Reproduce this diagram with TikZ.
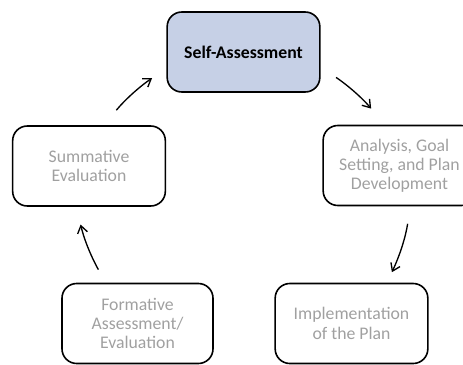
\documentclass[tikz,border=0pt]{standalone}
\usepackage{fontspec}
\setmainfont{Carlito}
\usetikzlibrary{arrows.meta}
\definecolor{selfblue}{RGB}{198,208,230}
\definecolor{labelgray}{RGB}{160,160,160}

\begin{document}
\begin{tikzpicture}
[x=0.75pt,y=-0.75pt,%
  box/.style={draw=black,line width=1.2pt,rounded corners=11pt,align=center,%
    minimum width=114.5pt,minimum height=60pt,inner sep=2pt,text=labelgray,%
    font=\fontsize{13.3}{14.4}\selectfont},%
  arr/.style={-{Straight Barb[length=5.5pt,width=7.5pt]},line width=1pt,bend left=8}]
\clip (0,0) rectangle (463,364);
% the cycle
\node[box,fill=selfblue,text=black,font=\fontsize{13.3}{14.4}\selectfont\bfseries]
  (self) at (243.5,52) {Self-Assessment};
\node[box] (ana) at (399.5,165.5) {Analysis, Goal\\Setting, and Plan\\Development};
\node[box] (impl) at (351.5,323.5) {Implementation\\of the Plan};
\node[box,minimum width=113.25pt] (form) at (137.5,323.5) {Formative\\Assessment/\\Evaluation};
\node[box] (sum) at (89,166) {Summative\\Evaluation};
% arrows between the steps
\draw[arr,shorten <=14.6pt,shorten >=13pt] (sum.70.6) to (self.192.1);
\draw[arr,shorten <=14pt,shorten >=15.75pt] (self.-11.5) to (ana.110);
\draw[arr,shorten <=13.3pt,shorten >=8.7pt] (ana.-75.5) to (impl.49.7);
\draw[arr,shorten <=11.25pt,shorten >=13.65pt] (form.128.8) to (sum.253.2);
\end{tikzpicture}
\end{document}
